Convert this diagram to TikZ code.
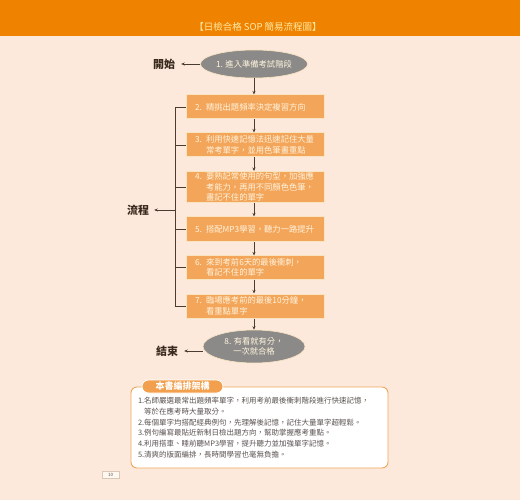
\documentclass[tikz,border=0pt]{standalone}
\usepackage{fontspec}
\setmainfont{Noto Sans CJK TC}
\usetikzlibrary{arrows.meta,shapes.geometric}
\definecolor{bg}{HTML}{FCE9DB}
\definecolor{band}{HTML}{EF8300}
\definecolor{titlec}{HTML}{FFE9A6}
\definecolor{boxc}{HTML}{F3A55A}
\definecolor{boxtxt}{HTML}{FFF4DE}
\definecolor{ellc}{HTML}{8C8A88}
\definecolor{linec}{HTML}{4A3C30}
\definecolor{labc}{HTML}{3A2A1E}
\definecolor{framec}{HTML}{F0A65A}
\definecolor{tabc}{HTML}{F2A04E}
\definecolor{bodytxt}{HTML}{5A5250}
\definecolor{shadowc}{HTML}{F8E4C0}
\definecolor{pgline}{HTML}{D8C8B8}
\definecolor{pgfill}{HTML}{FFF8F0}
\begin{document}
\begin{tikzpicture}[x=1pt,y=-1pt,
  stepbox/.style={rectangle, fill=boxc, draw=shadowc, line width=1pt, text=boxtxt,
    font=\fontsize{8.3}{10.5}\selectfont, text width=120pt, inner xsep=9pt, inner ysep=0pt, align=left},
  oval/.style={ellipse, fill=ellc, draw=shadowc, line width=0.6pt, text=boxtxt,
    font=\fontsize{8.3}{10.5}\selectfont, align=center, inner sep=0pt, minimum width=102pt},
  lab/.style={font=\fontsize{11}{13}\selectfont\bfseries, text=labc, inner sep=2pt},
  arr/.style={draw=linec, line width=0.7pt, -{Stealth[length=3.5pt,width=3pt]}},
  brk/.style={draw=linec, line width=0.7pt}]
\useasboundingbox (0,0) rectangle (520,500);
\fill[bg] (0,0) rectangle (520,500);
\fill[band] (0,0) rectangle (520,36);
\node (title) [text=titlec, font=\fontsize{9.5}{11}\selectfont] at (258,27) {【日檢合格 SOP 簡易流程圖】};

% flow
\node (e1) [oval, minimum height=28pt] at (254,64) {1. 進入準備考試階段};
\node (b2) [stepbox, minimum height=24pt] at (255,107) {2. 精挑出題頻率決定複習方向};
\node (b3) [stepbox, minimum height=24pt] at (255,145) {3. 利用快速記憶法迅速記住大量\\\phantom{3. }常考單字，並用色筆畫重點};
\node (b4) [stepbox, minimum height=31pt] at (255,187) {4. 要熟記常使用的句型，加強應\\\phantom{4. }考能力，再用不同顏色色筆，\\\phantom{4. }畫記不住的單字};
\node (b5) [stepbox, minimum height=25pt] at (255,229.5) {5. 搭配MP3學習，聽力一路提升};
\node (b6) [stepbox, minimum height=23pt] at (255,267.5) {6. 來到考前6天的最後衝刺，\\\phantom{6. }看記不住的單字};
\node (b7) [stepbox, minimum height=24pt] at (255,306) {7. 臨場應考前的最後10分鐘，\\\phantom{7. }看重點單字};
\node (e8) [oval, minimum height=33pt] at (254,346.5) {8. 有看就有分，\\一次就合格};

\draw[arr] (e1.south) -- (e1.south |- b2.north);
\draw[arr] (e1.south |- b2.south) -- (e1.south |- b3.north);
\draw[arr] (e1.south |- b3.south) -- (e1.south |- b4.north);
\draw[arr] (e1.south |- b4.south) -- (e1.south |- b5.north);
\draw[arr] (e1.south |- b5.south) -- (e1.south |- b6.north);
\draw[arr] (e1.south |- b6.south) -- (e1.south |- b7.north);
\draw[arr] (e1.south |- b7.south) -- (e8.north);

% labels
\node (start) [lab] at (164,64) {開始};
\node (flow) [lab] at (138,210) {流程};
\node (end) [lab] at (167,351) {結束};
\draw[arr, shorten >=4pt] (e1.west) -- (start.east);
\draw[arr, shorten >=4pt] (e8.west |- end.east) -- (end.east);

\coordinate (bx) at (175,0);
\draw[brk] (b2.west -| bx) -- (b7.west -| bx);
\foreach \b in {b2,b3,b4,b5,b6,b7} { \draw[brk] (\b.west -| bx) -- (\b.west); }
\draw[arr, shorten >=3pt] (flow.east -| bx) -- (flow.east);

% notes frame
\node (frame) [draw=framec, fill=white, rounded corners=6pt, line width=0.9pt,
  minimum width=257pt, minimum height=81pt, text width=243pt, inner xsep=7pt,
  text=bodytxt, font=\fontsize{7.5}{10.7}\selectfont, align=left] at (259.5,427.5)
  {1.名師嚴選最常出題頻率單字，利用考前最後衝刺階段進行快速記憶，\\
   \phantom{1.}等於在應考時大量取分。\\
   2.每個單字均搭配經典例句，先理解後記憶，記住大量單字超輕鬆。\\
   3.例句編寫最貼近新制日檢出題方向，幫助掌握應考重點。\\
   4.利用搭車、睡前聽MP3學習，提升聽力並加強單字記憶。\\
   5.清爽的版面編排，長時間學習也毫無負擔。};
\node (tab) [fill=tabc, draw=white, line width=0.8pt, rounded corners=6.5pt,
  minimum width=81pt, minimum height=13pt, inner sep=0pt, text=white,
  font=\fontsize{9}{10}\selectfont\bfseries] at (182.5,386.5) {本書編排架構};

\node (pg) [draw=pgline, fill=pgfill, line width=0.5pt, minimum width=17pt, minimum height=7pt,
  inner sep=0pt, text=bodytxt, font=\fontsize{4.5}{5}\selectfont] at (110.5,474.5) {10};
\end{tikzpicture}
\end{document}
